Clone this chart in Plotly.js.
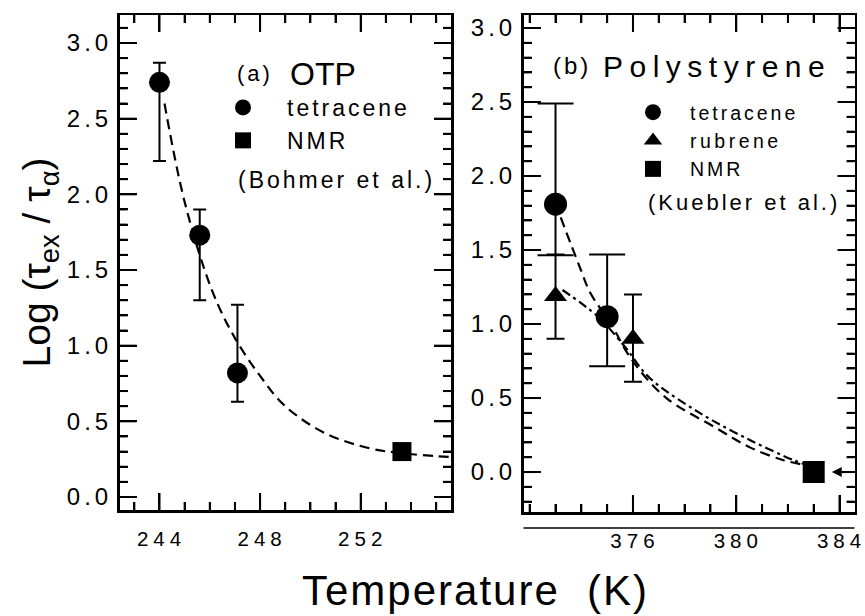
<!DOCTYPE html>
<html><head><meta charset="utf-8">
<script src="https://cdn.plot.ly/plotly-3.0.1.min.js"></script>
<style>
html,body{margin:0;padding:0;background:#fff;}
#chart{width:865px;height:616px;}
.xtick text,.x2tick text{letter-spacing:5px;}
.ytick text,.y2tick text{letter-spacing:4px;}
.scrollbox{clip-path:none !important;}
</style></head>
<body><div id="chart"></div>
<script>
// ---- Panel (a): OTP ----
const otpTetraT = [244.0, 245.6, 247.1];
const otpTetraLog = [2.74, 1.73, 0.82];
const otpTetraErrPlus = [0.13, 0.17, 0.45];
const otpTetraErrMinus = [0.52, 0.43, 0.19];
const otpNmrT = [253.64];
const otpNmrLog = [0.30];
const otpFitT = [244.2, 245.0, 246.1, 247.0, 248.0, 249.0, 250.6, 252.4, 253.6, 255.0, 255.55];
const otpFitLog = [2.60, 1.95, 1.36, 1.05, 0.80, 0.60, 0.42, 0.32, 0.29, 0.27, 0.265];
const otpXTicks = [244, 248, 252];

// ---- Panel (b): Polystyrene ----
const psTetraT = [373.0, 375.0];
const psTetraLog = [1.81, 1.05];
const psTetraErrPlus = [0.68, 0.42];
const psTetraErrMinus = [0.345, 0.335];
const psRubT = [373.0, 376.0];
const psRubLog = [1.19, 0.90];
const psRubErrPlus = [0.28, 0.30];
const psRubErrMinus = [0.29, 0.29];
const psNmrT = [383.0];
const psNmrLog = [0.0];
const psTetraFitT = [373.2, 373.95, 374.35, 375.15, 375.95, 377.26, 379.2, 380.55, 381.83, 382.6];
const psTetraFitLog = [1.72, 1.38, 1.21, 1.00, 0.76, 0.505, 0.30, 0.165, 0.08, 0.05];
const psRubFitT = [373.27, 374.64, 375.67, 376.62, 378.58, 380.54, 382.22, 382.7];
const psRubFitLog = [1.23, 1.05, 0.85, 0.64, 0.40, 0.215, 0.08, 0.05];
const psXTicks = [376, 380, 384];

const FONT = 'Liberation Sans, Arial, Helvetica, sans-serif';
const W = 865, H = 616;
const px = v => v / W;
const py = v => 1 - v / H;

const errStyle = (plus, minus, w) => ({type:'data', symmetric:false, array:plus, arrayminus:minus,
  color:'black', thickness:2, width:w});

const traces = [
  {x: otpFitT, y: otpFitLog, xaxis:'x', yaxis:'y', mode:'lines', showlegend:false,
   line:{color:'black', width:2.2, dash:'10px,6px', shape:'spline'}, hoverinfo:'skip'},
  {x: otpTetraT, y: otpTetraLog, xaxis:'x', yaxis:'y', mode:'markers', name:'tetracene', legend:'legend',
   marker:{symbol:'circle', size:21, color:'black'}, error_y: errStyle(otpTetraErrPlus, otpTetraErrMinus, 6.5)},
  {x: otpNmrT, y: otpNmrLog, xaxis:'x', yaxis:'y', mode:'markers', name:'NMR', legend:'legend',
   marker:{symbol:'square', size:19, color:'black'}},

  {x: psTetraFitT, y: psTetraFitLog, xaxis:'x2', yaxis:'y2', mode:'lines', showlegend:false,
   line:{color:'black', width:2.2, dash:'10px,6px', shape:'spline'}, hoverinfo:'skip'},
  {x: psRubFitT, y: psRubFitLog, xaxis:'x2', yaxis:'y2', mode:'lines', showlegend:false,
   line:{color:'black', width:2.2, dash:'9px,4px,3px,4px', shape:'spline'}, hoverinfo:'skip'},
  {x: psTetraT, y: psTetraLog, xaxis:'x2', yaxis:'y2', mode:'markers', name:'tetracene', legend:'legend2',
   marker:{symbol:'circle', size:23, color:'black'}, error_y: errStyle(psTetraErrPlus, psTetraErrMinus, 18)},
  {x: psRubT, y: psRubLog, xaxis:'x2', yaxis:'y2', mode:'markers', name:'rubrene', legend:'legend2',
   marker:{symbol:'triangle-up', size:20, color:'black'}, error_y: errStyle(psRubErrPlus, psRubErrMinus, 9)},
  {x: psNmrT, y: psNmrLog, xaxis:'x2', yaxis:'y2', mode:'markers', name:'NMR', legend:'legend2',
   marker:{symbol:'square', size:22, color:'black'}}
];

// axis geometry
const ax1 = {xdom:[px(119.5), px(451)], ydom:[py(510), py(15)], xr:[242.41, 255.59], yr:[-0.086, 3.185], wpx:331.5, hpx:495};
const ax2 = {xdom:[px(523.5), px(854.5)], ydom:[py(512), py(15)], xr:[371.76, 384.58], yr:[-0.27, 3.088], wpx:331, hpx:497};

function xCommon() { return {showline:true, linecolor:'black', linewidth:2.5, mirror:'ticks', ticks:'inside',
  ticklen:17, tickwidth:2, tickcolor:'black', showgrid:false, zeroline:false, ticklabeloverflow:'allow',
  tickfont:{family:FONT, size:20.5, color:'black'}, ticklabelshift:2, ticklabelstandoff:9,
  minor:{dtick:1, ticks:'inside', ticklen:8, tickwidth:2, tickcolor:'black', showgrid:false}}; }
function yCommon() { return {showline:true, linecolor:'black', linewidth:2.5, mirror:'ticks', ticks:'inside',
  ticklen:17, tickwidth:2, tickcolor:'black', showgrid:false, zeroline:false,
  tick0:0, dtick:0.5, tickformat:'.1f', ticklabelstandoff:0,
  tickfont:{family:FONT, size:24, color:'black'},
  minor:{dtick:0.1, ticks:'inside', ticklen:8, tickwidth:2, tickcolor:'black', showgrid:false}}; }

// tick marks on all four sides, placed through the axes' own scales
function tickShapes(xref, yref, g, majorX) {
  const out = [];
  const L = 17, l = 8, tl = {color:'black', width:2};
  for (let v = Math.ceil(g.xr[0]); v <= Math.floor(g.xr[1]); v++) {
    const len = (majorX.indexOf(v) >= 0 ? L : l) / g.hpx;
    out.push({type:'line', xref:xref, yref:yref + ' domain', x0:v, x1:v, y0:0, y1:len, line:tl});
    out.push({type:'line', xref:xref, yref:yref + ' domain', x0:v, x1:v, y0:1, y1:1 - len, line:tl});
  }
  for (let k = Math.ceil(g.yr[0] * 10); k <= Math.floor(g.yr[1] * 10); k++) {
    const v = k / 10;
    const len = (k % 5 === 0 ? L : l) / g.wpx;
    out.push({type:'line', xref:xref + ' domain', yref:yref, x0:0, x1:len, y0:v, y1:v, line:tl});
    out.push({type:'line', xref:xref + ' domain', yref:yref, x0:1, x1:1 - len, y0:v, y1:v, line:tl});
  }
  return out;
}

const layout = {
  width:W, height:H, margin:{l:0, r:0, t:0, b:0},
  paper_bgcolor:'white', plot_bgcolor:'white',
  font:{family:FONT, color:'black'},
  xaxis: Object.assign(xCommon(), {domain:ax1.xdom, range:ax1.xr, tickmode:'array', tickvals: otpXTicks, anchor:'y'}),
  yaxis: Object.assign(yCommon(), {domain:ax1.ydom, range:ax1.yr, anchor:'x',
    title:{text:'Log (τ<sub>ex</sub> / τ<sub>α</sub>)', font:{family:FONT, size:39, color:'black'}, standoff:4}}),
  xaxis2: Object.assign(xCommon(), {domain:ax2.xdom, range:ax2.xr, tickmode:'array', tickvals: psXTicks, anchor:'y2'}),
  yaxis2: Object.assign(yCommon(), {domain:ax2.ydom, range:ax2.yr, anchor:'x2'}),
  showlegend:true,
  legend:{x:px(199), y:py(86), xanchor:'left', yanchor:'top', bgcolor:'rgba(0,0,0,0)', borderwidth:0,
    font:{family:FONT, size:23, color:'black'}, itemwidth:78, itemsizing:'trace', tracegroupgap:0},
  legend2:{x:px(616), y:py(93), xanchor:'left', yanchor:'top', bgcolor:'rgba(0,0,0,0)', borderwidth:0,
    font:{family:FONT, size:19.5, color:'black'}, itemwidth:64, itemsizing:'trace', tracegroupgap:0},
  shapes:[
    {type:'line', xref:'x2 domain', x0:0, x1:1, yref:'paper', y0:py(528), y1:py(528),
     line:{color:'black', width:1.5}}
  ].concat(tickShapes('x', 'y', ax1, otpXTicks), tickShapes('x2', 'y2', ax2, psXTicks)),
  annotations:[
    {text:'(a)', xref:'paper', yref:'paper', x:px(235), y:py(74), xanchor:'left', yanchor:'middle', align:'left', showarrow:false,
     font:{family:FONT, size:22, color:'black'}},
    {text:'OTP', xref:'paper', yref:'paper', x:px(288), y:py(74), xanchor:'left', yanchor:'middle', align:'left', showarrow:false,
     font:{family:FONT, size:32, color:'black'}},
    {text:'(Bohmer et al.)', xref:'paper', yref:'paper', x:px(236), y:py(180), xanchor:'left', yanchor:'middle', align:'left', showarrow:false,
     font:{family:FONT, size:23, color:'black'}},
    {text:'(b)', xref:'paper', yref:'paper', x:px(551), y:py(66), xanchor:'left', yanchor:'middle', align:'left', showarrow:false,
     font:{family:FONT, size:24, color:'black'}},
    {text:'Polystyrene', xref:'paper', yref:'paper', x:px(601), y:py(67), xanchor:'left', yanchor:'middle', align:'left', showarrow:false,
     font:{family:FONT, size:30, color:'black'}},
    {text:'(Kuebler et al.)', xref:'paper', yref:'paper', x:px(646), y:py(202), xanchor:'left', yanchor:'middle', align:'left', showarrow:false,
     font:{family:FONT, size:22, color:'black'}},
    {text:'Temperature\u00a0 (K)', xref:'paper', yref:'paper', x:px(475), y:0, xanchor:'center', yanchor:'bottom', showarrow:false,
     font:{family:FONT, size:42, color:'black'}},
    {text:'', xref:'x2', yref:'y2', x:383.7, y:0, axref:'x2', ayref:'y2', ax:384.3, ay:0, showarrow:true,
     arrowhead:2, arrowsize:1, arrowwidth:2, arrowcolor:'black'}
  ]
};

const spacing = {'(a)':3, '(Bohmer et al.)':3, '(b)':3, 'Polystyrene':6.5, '(Kuebler et al.)':3,
  'Temperature\u00a0 (K)':2, 'tetracene':3, 'rubrene':3.5, 'NMR':3};

Plotly.newPlot('chart', traces, layout, {staticPlot:true, displayModeBar:false}).then(gd => {
  gd.querySelectorAll('text').forEach(t => {
    const s = spacing[t.textContent];
    if (s !== undefined) t.style.letterSpacing = s + 'px';
  });
});
</script>
</body></html>
